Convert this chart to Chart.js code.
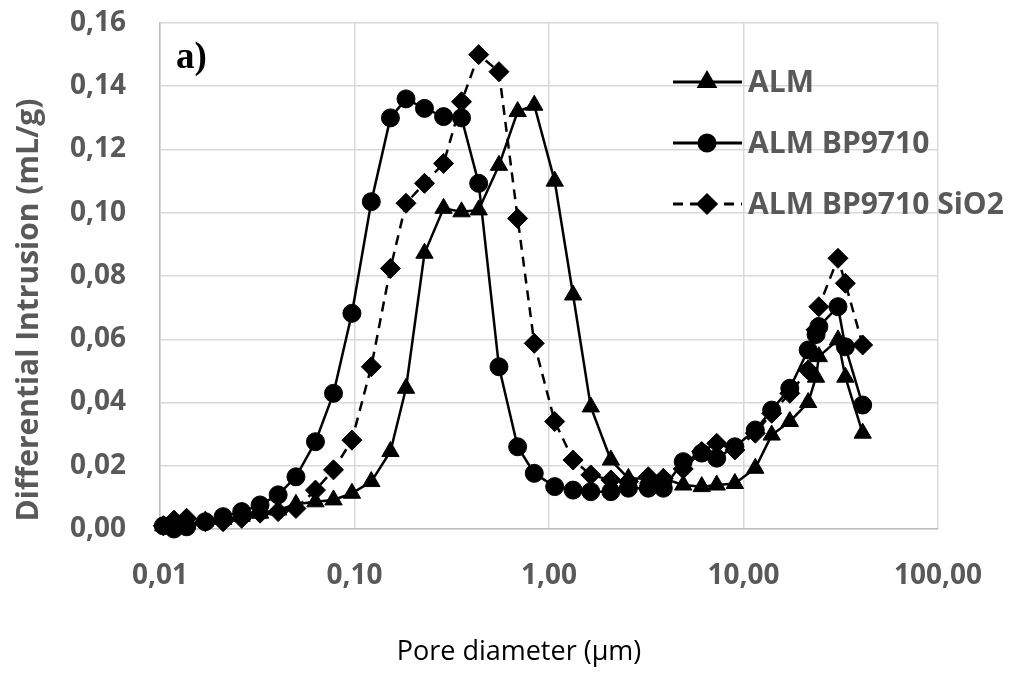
<!DOCTYPE html>
<html>
<head>
<meta charset="utf-8">
<script src="https://cdn.jsdelivr.net/npm/chart.js@4.4.1/dist/chart.umd.min.js"></script>
<style>
  html, body { margin: 0; padding: 0; background: #fff; }
  #wrap { width: 1022px; height: 673px; }
</style>
</head>
<body>
<div id="wrap"><canvas id="chart"></canvas></div>
<script>
// pore diameter (µm), shared by the three samples
const poreDiameter = [0.0104, 0.0118, 0.0137, 0.0171, 0.0211, 0.0263, 0.0327, 0.0405, 0.050, 0.063, 0.078, 0.097,
    0.122, 0.153, 0.184, 0.229, 0.287, 0.355, 0.435, 0.553, 0.69, 0.84, 1.07, 1.33, 1.64, 2.08, 2.56, 3.24, 3.87,
    4.9, 6.1, 7.28, 9.03, 11.5, 13.96, 17.3, 21.5, 23.6, 24.4, 30.6, 33.4, 41.0]

// differential intrusion (mL/g)
const almValues = [0.001, 0.0005, 0.0015, 0.0025, 0.003, 0.004, 0.005, 0.006, 0.0078, 0.0086, 0.0092, 0.0113,
    0.015, 0.0245, 0.0445, 0.0872, 0.1014, 0.1003, 0.1009, 0.115, 0.132, 0.134, 0.110, 0.074, 0.0386, 0.0218, 0.016,
    0.016, 0.016, 0.0139, 0.0134, 0.0139, 0.0144, 0.0192, 0.0297, 0.034, 0.040, 0.048, 0.0545, 0.0598, 0.048, 0.0303]
const bp9710Values = [0.001, 0.0, 0.0007, 0.0023, 0.0039, 0.0055, 0.0076, 0.0108, 0.0165, 0.0276, 0.0429, 0.0682,
    0.1035, 0.130, 0.136, 0.133, 0.1304, 0.130, 0.1093, 0.0513, 0.026, 0.0176, 0.0134, 0.0123, 0.0118, 0.0118, 0.0129,
    0.0129, 0.0129, 0.0213, 0.024, 0.0224, 0.026, 0.0313, 0.0376, 0.0445, 0.0566, 0.0615, 0.064, 0.0703, 0.0576, 0.0392]
const sio2Values = [0.001, 0.0028, 0.0034, 0.0023, 0.0023, 0.0034, 0.005, 0.0055, 0.0065, 0.0123, 0.0187, 0.0281,
    0.0513, 0.0824, 0.103, 0.1093, 0.1156, 0.1351, 0.150, 0.1446, 0.0982, 0.0587, 0.034, 0.0218, 0.0171, 0.0155, 0.015,
    0.0165, 0.016, 0.019, 0.0245, 0.0271, 0.025, 0.0303, 0.0366, 0.0429, 0.0503, 0.063, 0.0703, 0.0856, 0.0777, 0.0582]

const seriesNames = ['ALM', 'ALM BP9710', 'ALM BP9710 SiO2']
const xTickValues = [0.01, 0.1, 1, 10, 100]
const yTickStep = 0.02

const GREY_TEXT = '#595959'
const FONT = "'Open Sans', sans-serif"

const toPoints = ys => ys.map((y, i) => ({ x: poreDiameter[i], y: y }))
const comma = v => Number(v).toFixed(2).replace('.', ',')

const ctx = document.getElementById('chart').getContext('2d')

// titles, panel letter and the in-plot legend
const decorations = {
    id: 'decorations',
    afterDraw(chart) {
        const c = chart.ctx
        c.save()

        c.fillStyle = GREY_TEXT
        c.font = "bold 30px " + FONT
        c.textAlign = 'center'
        c.textBaseline = 'middle'
        c.translate(29, 310)
        c.rotate(-Math.PI / 2)
        c.fillText('Differential Intrusion (mL/g)', 0, 0)
        c.setTransform(1, 0, 0, 1, 0, 0)

        c.fillStyle = '#000'
        c.font = "27px " + FONT
        c.textBaseline = 'alphabetic'
        c.fillText('Pore diameter (µm)', 519, 660)

        c.font = "bold 37px 'Liberation Serif', serif"
        c.textAlign = 'left'
        c.fillText('a)', 176, 68)

        // legend
        chart.data.datasets.forEach((ds, i) => {
            const y = 82 + i * 61
            c.strokeStyle = '#000'
            c.lineWidth = 3
            c.setLineDash(ds.borderDash || [])
            c.beginPath()
            c.moveTo(673, y)
            c.lineTo(742, y)
            c.stroke()
            c.setLineDash([])
            if (ds.borderDash) {
                c.fillStyle = '#fff'
                c.fillRect(697, y - 4, 20, 8)
            }
            Chart.helpers.drawPoint(c, {
                pointStyle: ds.pointStyle,
                radius: ds.pointRadius - 1,
                borderWidth: 1,
                rotation: 0
            }, 707, y)
            c.fillStyle = '#000'
            c.fill()
            c.fillStyle = GREY_TEXT
            c.font = "bold 30px " + FONT
            c.textAlign = 'left'
            c.textBaseline = 'middle'
            c.fillText(ds.label, 748, y + 1)
        })
        c.restore()
    }
}

const common = {
    showLine: true,
    borderColor: '#000',
    backgroundColor: '#000',
    pointBorderColor: '#000',
    pointBackgroundColor: '#000',
    borderWidth: 2.5,
    pointBorderWidth: 1,
    tension: 0,
    clip: false
}

new Chart(ctx, {
    type: 'scatter',
    data: {
        datasets: [{
            ...common,
            label: seriesNames[0],
            data: toPoints(almValues),
            pointStyle: 'triangle',
            pointRadius: 10,
            pointHoverRadius: 10
        }, {
            ...common,
            label: seriesNames[1],
            data: toPoints(bp9710Values),
            pointStyle: 'circle',
            pointRadius: 9,
            pointHoverRadius: 9
        }, {
            ...common,
            label: seriesNames[2],
            data: toPoints(sio2Values),
            pointStyle: 'rectRot',
            pointRadius: 10,
            pointHoverRadius: 10,
            borderDash: [10, 7]
        }]
    },
    options: {
        responsive: true,
        maintainAspectRatio: false,
        animation: false,
        layout: { padding: { top: 23, right: 84, left: 0, bottom: 0 } },
        plugins: {
            legend: { display: false },
            tooltip: { enabled: false }
        },
        scales: {
            x: {
                type: 'logarithmic',
                min: 0.01,
                max: 100,
                afterBuildTicks: scale => { scale.ticks = xTickValues.map(v => ({ value: v })) },
                afterFit: scale => {
                    scale.height = 144
                    scale.paddingLeft = 0
                    scale.paddingRight = 0
                },
                ticks: {
                    callback: v => comma(v),
                    color: GREY_TEXT,
                    font: { family: FONT, size: 28, weight: 'bold' },
                    padding: 30,
                    maxRotation: 0,
                    autoSkip: false
                },
                grid: { color: '#d9d9d9', lineWidth: 1.5, drawTicks: false },
                border: { color: '#bfbfbf', width: 1.5 }
            },
            y: {
                min: 0,
                max: 0.16,
                afterFit: scale => {
                    scale.width = 160
                    scale.paddingTop = 0
                    scale.paddingBottom = 0
                },
                ticks: {
                    stepSize: yTickStep,
                    callback: v => comma(v),
                    color: GREY_TEXT,
                    font: { family: FONT, size: 28, weight: 'bold' },
                    padding: 34
                },
                grid: { color: '#d9d9d9', lineWidth: 1.5, drawTicks: false },
                border: { color: '#bfbfbf', width: 1.5 }
            }
        }
    },
    plugins: [decorations]
})
</script>
</body>
</html>
